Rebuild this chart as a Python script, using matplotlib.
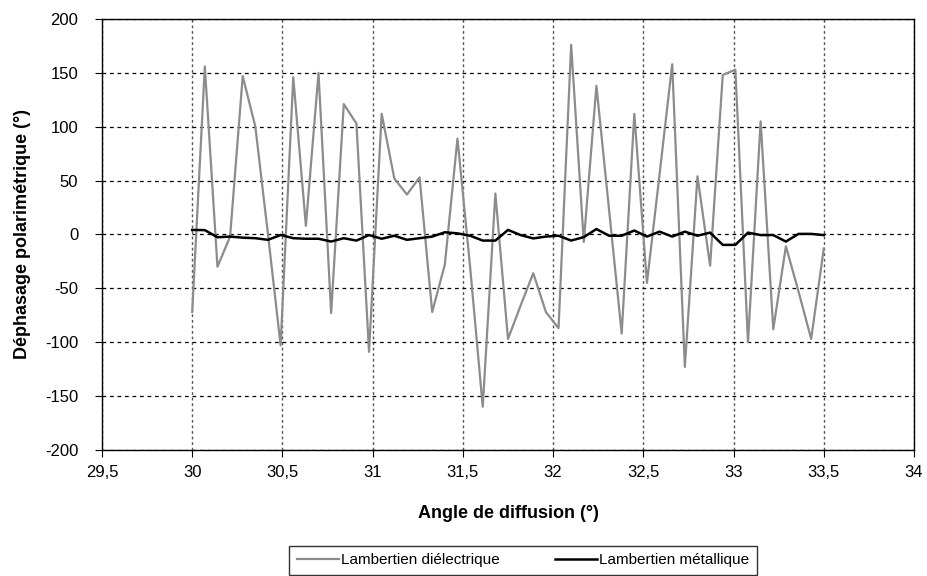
import numpy as np
import matplotlib
matplotlib.use("Agg")
import matplotlib.pyplot as plt

plt.rcParams['font.family'] = ['Liberation Sans', 'DejaVu Sans']
plt.rcParams['axes.unicode_minus'] = False

# angles de diffusion (pas de 0,07 deg)
angles = [30.00, 30.07, 30.14, 30.21, 30.28, 30.35, 30.42, 30.49, 30.56, 30.63,
          30.70, 30.77, 30.84, 30.91, 30.98, 31.05, 31.12, 31.19, 31.26, 31.33,
          31.40, 31.47, 31.54, 31.61, 31.68, 31.75, 31.82, 31.89, 31.96, 32.03,
          32.10, 32.17, 32.24, 32.31, 32.38, 32.45, 32.52, 32.59, 32.66, 32.73,
          32.80, 32.87, 32.94, 33.01, 33.08, 33.15, 33.22, 33.29, 33.36, 33.43,
          33.50]

# dephasage - lambertien dielectrique
dielectrique = [-72, 156, -30, -2, 147, 100, 0, -103, 146, 8,
                150, -73, 121, 103, -109, 112, 52, 37, 53, -72,
                -28, 89, -30, -160, 38, -97, -66, -36, -72, -87,
                176, -7, 138, 23, -92, 112, -45, 56, 158, -123,
                54, -29, 148, 153, -100, 105, -88, -11, -53, -97,
                -13]

# dephasage - lambertien metallique
metallique = [4.2, 4, -2.6, -2, -3, -3.5, -5, -0.5, -3.5, -4,
              -4, -6.6, -3.5, -5.7, -0.6, -4, -1.2, -5, -3.5, -2,
              2, 1, -1.2, -5.7, -5.7, 4.2, -0.6, -3.7, -2, -1.2,
              -5.7, -2.5, 5, -1.2, -1.2, 3.6, -2, 2.6, -2, 2.6,
              -1.2, 1.7, -9.7, -9.7, 1.7, -0.6, -0.6, -6.6, 0.5, 0.5,
              -0.6]

x_ticks = [29.5, 30, 30.5, 31, 31.5, 32, 32.5, 33, 33.5, 34]
x_labels = ["29,5", "30", "30,5", "31", "31,5", "32", "32,5", "33", "33,5", "34"]
y_ticks = list(range(-200, 201, 50))

fig = plt.figure(figsize=(9.27, 5.76), dpi=100)
ax = fig.add_axes([0.110, 0.219, 0.876, 0.748])

ax.plot(angles, dielectrique, color="#8c8c8c", lw=1.6, label="Lambertien diélectrique")
ax.plot(angles, metallique, color="black", lw=1.8, label="Lambertien métallique")

ax.set_xlim(29.5, 34)
ax.set_ylim(-200, 200)
ax.set_xticks(x_ticks)
ax.set_xticklabels(x_labels)
ax.set_yticks(y_ticks)
ax.tick_params(labelsize=12, direction="out", length=5, color="black")
ax.tick_params(axis="y", pad=12)
ax.tick_params(axis="x", pad=6)

# grille facon tableur
ax.yaxis.grid(True, linestyle=(0, (3, 3)), color="black", lw=0.9)
ax.xaxis.grid(True, linestyle=(0, (2, 2)), color="#555555", lw=1.0)
ax.set_axisbelow(True)
for s in ax.spines.values():
    s.set_color("black")
    s.set_linewidth(1.0)

ax.set_xlabel("Angle de diffusion (°)", fontsize=13, fontweight="bold", labelpad=18)
ax.set_ylabel("Déphasage polarimétrique (°)", fontsize=13, fontweight="bold", labelpad=10)

fig.legend(loc="upper center", bbox_to_anchor=(0.564, 0.066), ncol=2, fontsize=11,
           frameon=True, fancybox=False, edgecolor="black", handlelength=2.8,
           handletextpad=0.1, columnspacing=3.6, borderpad=0.5)

fig.savefig("out.png", dpi=100)
